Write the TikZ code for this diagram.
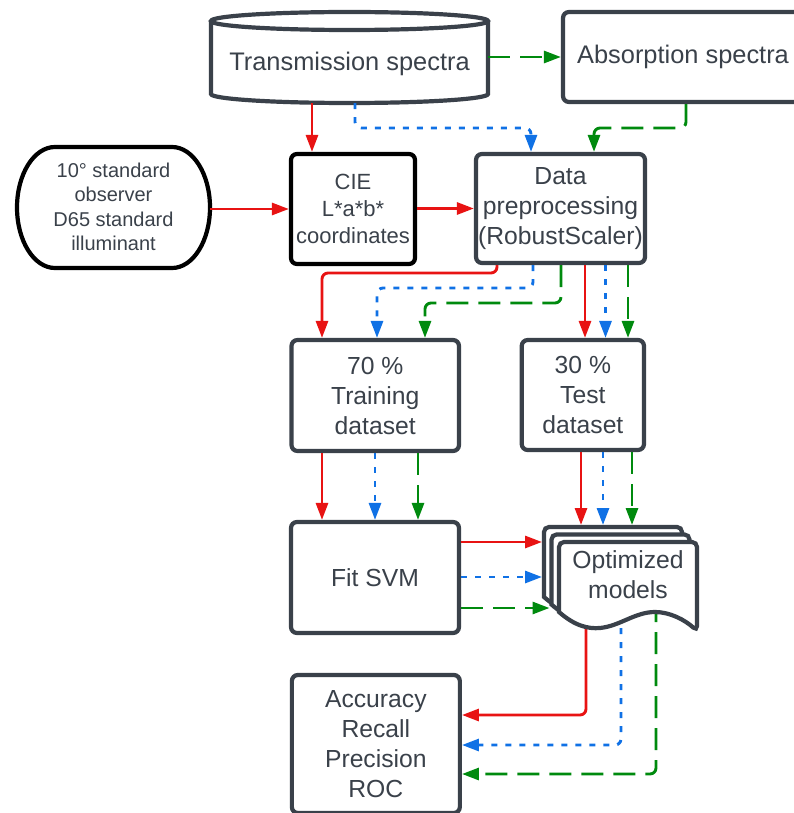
\documentclass[tikz,border=0pt]{standalone}
\usepackage{fontspec}
\setmainfont{Liberation Sans}
\usetikzlibrary{arrows.meta}
\definecolor{FlowRed}{HTML}{E81313}
\definecolor{FlowBlue}{HTML}{1071E5}
\definecolor{FlowGreen}{HTML}{008A0E}
\definecolor{EdgeGray}{HTML}{3A414A}

\begin{document}
\begin{tikzpicture}[x=1pt, y=-1pt, >={Triangle[length=17pt,width=12pt]},
  every node/.style={text=EdgeGray, align=center, font=\fontsize{24.7}{30}\selectfont},
  bigtext/.style={font=\fontsize{25.4}{30}\selectfont},
  outline/.style={draw=EdgeGray, line width=4.2pt},
  box/.style={outline, rounded corners=6pt, fill=white, inner sep=0pt},
  blackbox/.style={box, draw=black},
  plain/.style={inner sep=0pt},
  flow/.style={->, line width=2.9pt, rounded corners=6pt},
  redflow/.style={flow, FlowRed},
  blueflow/.style={flow, FlowBlue, dash pattern=on 6pt off 8pt},
  greenflow/.style={flow, FlowGreen, dash pattern=on 22pt off 10pt}]
  \useasboundingbox (0,0) rectangle (794,813);

  % Sources: spectra database and derived spectra
  \draw[outline] (211,21) -- (211,94)
    arc[start angle=180, end angle=360, x radius=138.5pt, y radius=9pt] -- (488,21);
  \draw[outline] (349.5,21) ellipse[x radius=138.5pt, y radius=9pt];
  \node[plain, bigtext, minimum width=277pt, minimum height=78pt] (trans) at (349.5,64) {Transmission spectra};
  \node[box, bigtext, minimum width=240pt, minimum height=90pt] (absorb) at (683,57) {Absorption spectra};

  % Colour space conversion
  \draw[outline, draw=black] (55,147) -- (172,147)
    arc[start angle=90, end angle=-90, x radius=38pt, y radius=60.5pt] -- (55,268)
    arc[start angle=270, end angle=90, x radius=38pt, y radius=60.5pt] -- cycle;
  \node[plain, minimum width=193pt, minimum height=121pt, font=\fontsize{20}{24.5}\selectfont]
    (observer) at (113.5,207) {10° standard\\observer\\D65 standard\\illuminant};
  \node[blackbox, minimum width=124pt, minimum height=110pt, font=\fontsize{22}{27}\selectfont]
    (cie) at (353,209) {CIE\\L*a*b*\\coordinates};
  \node[box, minimum width=169pt, minimum height=109pt] (data) at (560.5,208.5) {Data\\preprocessing\\(RobustScaler)};

  % Split, training and evaluation
  \node[box, minimum width=167.5pt, minimum height=111pt] (train) at (375.25,395.5) {70 \%\\Training\\dataset};
  \node[box, minimum width=122.3pt, minimum height=110pt] (test) at (582.85,395) {30 \%\\Test\\dataset};
  \node[box, minimum width=168pt, minimum height=111pt] (svm) at (375,577.5) {Fit SVM};
  \node[box, minimum width=168pt, minimum height=138pt] (acc) at (375.85,744) {Accuracy\\Recall\\Precision\\ROC};

  \coordinate (stacktop) at (614,525);
  \coordinate (stackleft) at (542,570);
  \coordinate (stackmid) at (549.5,600);
  \coordinate (stackbase) at (628,600);

  % Flows out of the spectra
  \draw[greenflow] (trans.east |- absorb.west) -- (absorb.west);
  \draw[redflow] (trans.south -| 312,0) -- (cie.north -| 312,0);
  \draw[blueflow] (trans.south -| 355,0) -- (355,128) -| (data.north -| 531,0);
  \draw[greenflow] (absorb.south -| 686,0) -- (686,128) -| (data.north -| 594,0);
  \draw[redflow] (observer.east |- cie.west) -- (cie.west);
  \draw[redflow] (cie.east |- data.west) -- (data.west);

  % Flows into the split datasets
  \draw[redflow] (data.south -| 497,0) -- (497,273) -| (train.north -| 322,0);
  \draw[blueflow] (data.south -| 533,0) -- (533,288) -| (train.north -| 377,0);
  \draw[greenflow] (data.south -| 561,0) -- (561,303) -| (train.north -| 425,0);
  \draw[redflow] (data.south -| 585,0) -- (test.north -| 585,0);
  \draw[blueflow] (data.south -| 605.5,0) -- (test.north -| 605.5,0);
  \draw[greenflow] (data.south -| 628,0) -- (test.north -| 628,0);

  \draw[redflow] (train.south -| 322,0) -- (svm.north -| 322,0);
  \draw[blueflow] (train.south -| 375,0) -- (svm.north -| 375,0);
  \draw[greenflow] (train.south -| 418,0) -- (svm.north -| 418,0);

  % Metrics from the optimized models
  \draw[redflow] (stackbase -| 586,0) |- (acc.east |- 0,715);
  \draw[blueflow] (stackbase -| 621,0) |- (acc.east |- 0,745);
  \draw[greenflow] (stackbase -| 656,0) |- (acc.east |- 0,774);

  % Stack of model sheets
  \foreach \s in {15,7.5,0}{
    \draw[outline, fill=white, shift={(-\s,-\s)}] (559,612) [rounded corners=5pt] -- (559,542) -- (697,542)
      -- (697,631) [sharp corners] .. controls (685,620) and (670,612) .. (655,612)
      .. controls (635,612) and (620,626) .. (600,628)
      .. controls (588,629) and (575,626) .. (559,612) -- cycle;
  }
  \node[plain] (models) at (628,575) {Optimized\\models};

  \draw[redflow] (test.south -| 581,0) -- (stacktop -| 581,0);
  \draw[blueflow] (test.south -| 603,0) -- (stacktop -| 603,0);
  \draw[greenflow] (test.south -| 632,0) -- (stacktop -| 632,0);
  \draw[redflow] (svm.east |- 0,542) -- (stackleft |- 0,542);
  \draw[blueflow] (svm.east |- 0,577) -- (stackleft |- 0,577);
  \draw[greenflow] (svm.east |- 0,608) -- (stackmid |- 0,608);
\end{tikzpicture}
\end{document}
